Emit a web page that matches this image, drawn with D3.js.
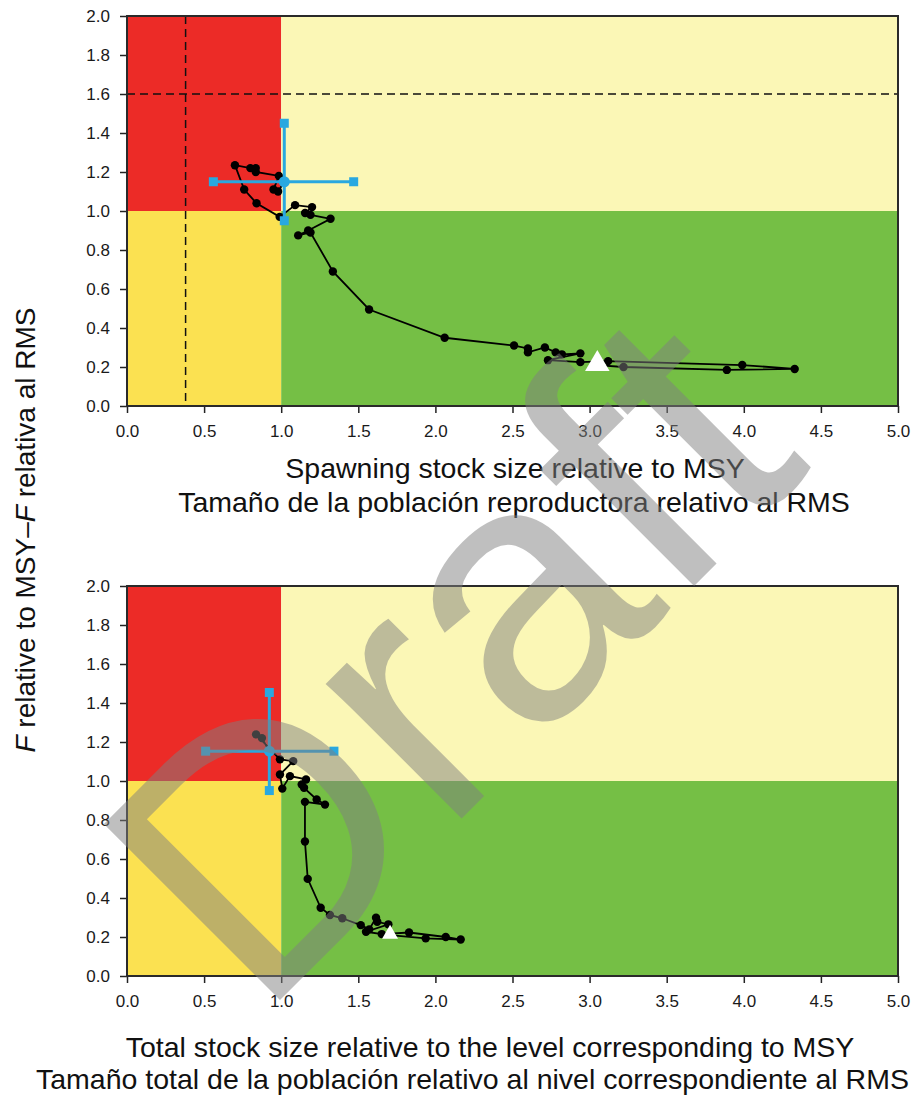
<!DOCTYPE html>
<html>
<head>
<meta charset="utf-8">
<script src="https://cdn.jsdelivr.net/npm/d3@7"></script>
<style>
  body { margin: 0; background: #fff; }
  svg { display: block; }
</style>
</head>
<body>
<div id="chart"></div>
<script>
// tick values (both panels share the same axes)
const xTicks = [0, 0.5, 1, 1.5, 2, 2.5, 3, 3.5, 4, 4.5, 5];
const yTicks = [0, 0.2, 0.4, 0.6, 0.8, 1.0, 1.2, 1.4, 1.6, 1.8, 2.0];

// top panel : spawning stock size / F (first point = white triangle, last = current estimate)
const ssbB = [3.05, 3.22, 3.89, 4.33, 3.99, 3.12, 2.94, 2.73, 2.94, 2.82, 2.78, 2.71, 2.60, 2.60, 2.51, 2.06, 1.57, 1.335,
              1.19, 1.11, 1.175, 1.32, 1.19, 1.155, 1.20, 1.09, 0.99, 0.84, 0.76, 0.70, 0.80, 0.835, 0.835, 0.985, 0.95, 0.98, 1.02];
const ssbF = [0.21, 0.20, 0.185, 0.19, 0.21, 0.23, 0.225, 0.235, 0.27, 0.265, 0.275, 0.30, 0.275, 0.295, 0.31, 0.35, 0.495, 0.69,
              0.89, 0.875, 0.90, 0.96, 0.98, 0.99, 1.02, 1.03, 0.97, 1.04, 1.11, 1.235, 1.22, 1.22, 1.20, 1.18, 1.11, 1.10, 1.15];
// current estimate with ranges: [centre, low, high]
const ssbCurB = [1.02, 0.56, 1.47];
const ssbCurF = [1.15, 0.95, 1.45];
const ssbLimB = 0.38;   // dashed reference lines
const ssbLimF = 1.6;

// bottom panel : total stock size / F
const totB = [1.706, 1.937, 2.164, 2.067, 1.829, 1.652, 1.55, 1.695, 1.623, 1.615, 1.571, 1.516, 1.396, 1.316, 1.256, 1.172,
              1.154, 1.154, 1.284, 1.23, 1.148, 1.133, 1.161, 1.057, 1.007, 0.992, 1.078, 0.992, 0.837, 0.875, 0.923];
const totF = [0.21, 0.193, 0.187, 0.20, 0.223, 0.215, 0.227, 0.265, 0.278, 0.299, 0.239, 0.261, 0.296, 0.313, 0.35, 0.498,
              0.69, 0.893, 0.879, 0.905, 0.965, 0.982, 1.008, 1.025, 0.961, 1.033, 1.102, 1.111, 1.239, 1.22, 1.153];
const totCurB = [0.923, 0.51, 1.342];
const totCurF = [1.153, 0.951, 1.454];

const W = 914, H = 1097;
const left = 127, plotW = 771, plotH = 390;
const font = "'Liberation Sans', Arial, sans-serif";
const blue = "#29a8e0";

const svg = d3.select("#chart").append("svg")
    .attr("width", W).attr("height", H)
    .style("font-family", font);

svg.append("rect").attr("width", W).attr("height", H).attr("fill", "#fff");

function drawPanel(top, bs, fs, curB, curF, triSize, refB, refF) {
    const x = d3.scaleLinear().domain([0, 5]).range([0, plotW]);
    const y = d3.scaleLinear().domain([0, 2]).range([plotH, 0]);
    const g = svg.append("g").attr("transform", `translate(${left},${top})`);

    // kobe quadrants
    const quads = [
        {x0: 0, x1: 1, y0: 1, y1: 2, c: "#ec2b27"},
        {x0: 1, x1: 5, y0: 1, y1: 2, c: "#fbf7b6"},
        {x0: 0, x1: 1, y0: 0, y1: 1, c: "#fbe151"},
        {x0: 1, x1: 5, y0: 0, y1: 1, c: "#75bf45"}
    ];
    g.selectAll("rect.q").data(quads).enter().append("rect")
        .attr("class", "q")
        .attr("x", d => x(d.x0)).attr("y", d => y(d.y1))
        .attr("width", d => x(d.x1) - x(d.x0))
        .attr("height", d => y(d.y0) - y(d.y1))
        .attr("fill", d => d.c);

    // dashed limit lines (top panel only)
    if (refB != null) {
        g.append("line").attr("x1", x(refB)).attr("x2", x(refB)).attr("y1", 0).attr("y2", plotH)
            .attr("stroke", "#111").attr("stroke-width", 1.5).attr("stroke-dasharray", "8,5");
        g.append("line").attr("x1", 0).attr("x2", plotW).attr("y1", y(refF)).attr("y2", y(refF))
            .attr("stroke", "#111").attr("stroke-width", 1.5).attr("stroke-dasharray", "8,5");
    }

    // axes
    const xAxis = d3.axisBottom(x).tickValues(xTicks).tickFormat(d3.format(".1f")).tickSize(7).tickSizeOuter(0).tickPadding(12);
    const yAxis = d3.axisLeft(y).tickValues(yTicks).tickFormat(d3.format(".1f")).tickSize(7).tickSizeOuter(0).tickPadding(10);
    const ga = g.append("g").attr("transform", `translate(0,${plotH})`).call(xAxis);
    const gy = g.append("g").call(yAxis);
    [ga, gy].forEach(a => {
        a.select(".domain").remove();
        a.selectAll("line").attr("stroke", "#222").attr("stroke-width", 1.5);
        a.selectAll("text").attr("font-size", 17).attr("fill", "#1a1a1a").style("font-family", font);
    });

    // frame
    g.append("rect").attr("width", plotW).attr("height", plotH)
        .attr("fill", "none").attr("stroke", "#2a2a2a").attr("stroke-width", 2);

    // trajectory
    const pts = bs.map((b, i) => ({b: b, f: fs[i]}));
    g.append("path").datum(pts)
        .attr("d", d3.line().x(d => x(d.b)).y(d => y(d.f)))
        .attr("fill", "none").attr("stroke", "#000").attr("stroke-width", 1.8);
    g.selectAll("circle.p").data(pts.slice(1, -1)).enter().append("circle")
        .attr("class", "p")
        .attr("cx", d => x(d.b)).attr("cy", d => y(d.f)).attr("r", 4.2)
        .attr("fill", "#000");

    // first year marker
    g.append("path")
        .attr("d", d3.symbol().type(d3.symbolTriangle).size(triSize))
        .attr("transform", `translate(${x(pts[0].b)},${y(pts[0].f) - 1})`)
        .attr("fill", "#fff");

    // current estimate with ranges
    g.append("line").attr("x1", x(curB[1])).attr("x2", x(curB[2])).attr("y1", y(curF[0])).attr("y2", y(curF[0]))
        .attr("stroke", blue).attr("stroke-width", 3);
    g.append("line").attr("x1", x(curB[0])).attr("x2", x(curB[0])).attr("y1", y(curF[1])).attr("y2", y(curF[2]))
        .attr("stroke", blue).attr("stroke-width", 3);
    const ends = [[curB[1], curF[0]], [curB[2], curF[0]], [curB[0], curF[1]], [curB[0], curF[2]]];
    g.selectAll("rect.e").data(ends).enter().append("rect")
        .attr("class", "e")
        .attr("x", d => x(d[0]) - 4.5).attr("y", d => y(d[1]) - 4.5)
        .attr("width", 9).attr("height", 9).attr("fill", blue);
    g.append("circle").attr("cx", x(curB[0])).attr("cy", y(curF[0])).attr("r", 5.5).attr("fill", blue);
}

drawPanel(16, ssbB, ssbF, ssbCurB, ssbCurF, 260, ssbLimB, ssbLimF);
drawPanel(586, totB, totF, totCurB, totCurF, 110, null, null);

// axis titles
const tsz = 28.5;
svg.append("text").attr("x", 515).attr("y", 478).attr("text-anchor", "middle").attr("font-size", tsz).attr("fill", "#111")
    .text("Spawning stock size relative to MSY");
svg.append("text").attr("x", 514).attr("y", 512).attr("text-anchor", "middle").attr("font-size", tsz).attr("fill", "#111")
    .text("Tamaño de la población reproductora relativo al RMS");
svg.append("text").attr("x", 490).attr("y", 1057).attr("text-anchor", "middle").attr("font-size", tsz).attr("fill", "#111")
    .text("Total stock size relative to the level corresponding to MSY");
svg.append("text").attr("x", 36).attr("y", 1089).attr("text-anchor", "start").attr("font-size", tsz).attr("fill", "#111")
    .text("Tamaño total de la población relativo al nivel correspondiente al RMS");

const yl = svg.append("text").attr("transform", "translate(35,530) rotate(-90)")
    .attr("text-anchor", "middle").attr("font-size", 28).attr("fill", "#111");
yl.append("tspan").attr("font-style", "italic").text("F");
yl.append("tspan").text(" relative to MSY\u2013");
yl.append("tspan").attr("font-style", "italic").text("F");
yl.append("tspan").text(" relativa al RMS");

// draft watermark
svg.append("text").attr("transform", "translate(259,1021) rotate(-45)")
    .attr("font-size", 362).attr("fill", "#808080").attr("opacity", 0.5)
    .text("Draft");
</script>
</body>
</html>
